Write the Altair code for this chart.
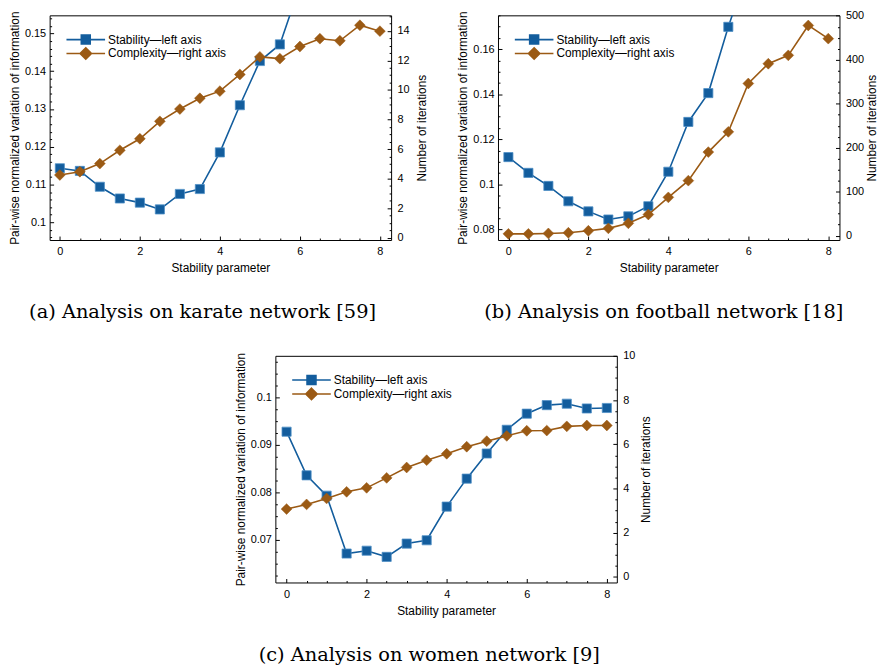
import altair as alt
import pandas as pd
import numpy as np

# ---------------- data ----------------
X = [0, 0.5, 1, 1.5, 2, 2.5, 3, 3.5, 4, 4.5, 5, 5.5, 6, 6.5, 7, 7.5, 8]

KARATE_STABILITY = [0.1143, 0.1136, 0.1094, 0.1063, 0.1052, 0.1034, 0.1075, 0.1088,
                    0.1185, 0.1310, 0.1427, 0.1471, 0.1626]
KARATE_COMPLEXITY = [4.25, 4.47, 5.02, 5.92, 6.70, 7.88, 8.71, 9.44, 9.92, 11.05,
                     12.24, 12.12, 12.94, 13.47, 13.33, 14.38, 13.98]

FOOTBALL_STABILITY = [0.1121, 0.1051, 0.0993, 0.0925, 0.0880, 0.0844, 0.0858, 0.0903,
                      0.1056, 0.1277, 0.1405, 0.1699, 0.1960]
FOOTBALL_COMPLEXITY = [4, 4, 5, 6.5, 11, 16.5, 28, 48, 87, 125, 190, 236, 346, 391,
                       410, 478, 448]

WOMEN_STABILITY = [0.0928, 0.0836, 0.0793, 0.0671, 0.0677, 0.0664, 0.0692, 0.0699,
                   0.0770, 0.0829, 0.0882, 0.0932, 0.0966, 0.0984, 0.0987, 0.0977, 0.0978]
WOMEN_COMPLEXITY = [3.07, 3.28, 3.55, 3.85, 4.03, 4.48, 4.95, 5.28, 5.57, 5.89, 6.14,
                    6.38, 6.61, 6.62, 6.81, 6.85, 6.85]

SERIES = ["Stability\u2014left axis", "Complexity\u2014right axis"]
CAPTIONS = ["(a) Analysis on karate network [59]",
            "(b) Analysis on football network [18]",
            "(c) Analysis on women network [9]"]
X_TITLE = "Stability parameter"
LEFT_TITLE = "Pair-wise normalized variation of information"
RIGHT_TITLE = "Number of iterations"

# ---------------- style ----------------
BLUE = "#135d9d"
BROWN = "#9b5a14"
COLORS = [BLUE, BROWN]
SANS = "Liberation Sans"
SERIF = "DejaVu Serif"
LEGEND_PATHS = ["M-3.9,0H3.9M-0.9,-0.9H0.9V0.9H-0.9Z",
                "M-3.9,0H3.9M0,-1.15L1.15,0L0,1.15L-1.15,0Z"]


def tick_values(lo, hi, step):
    start = np.ceil(lo / step - 1e-9) * step
    vals = np.arange(start, hi + 1e-9, step)
    return [float(round(v, 6)) for v in vals]


def major_test(major):
    return f"abs(datum.value/{major} - round(datum.value/{major})) < 1e-6"


def tick_dash(major, height=None):
    if height is None:
        return {"condition": {"test": major_test(major), "value": [4, 2000]},
                "value": [2, 2000]}
    return {"condition": {"test": major_test(major), "value": [0, height - 4, 4, 2000]},
            "value": [0, height - 2, 2, 2000]}


def panel(stab, comp, x_domain, left_domain, left_major, left_minor,
          right_domain, right_major, right_minor, width, height, caption, dx,
          right_title_pad):
    stab_df = pd.DataFrame({"x": X[:len(stab)], "y": stab})
    comp_df = pd.DataFrame({"x": X[:len(comp)], "y": comp})

    x_enc = alt.X("x:Q",
                  scale=alt.Scale(domain=x_domain, nice=False, zero=False),
                  axis=alt.Axis(title=X_TITLE, values=tick_values(0, 8, 0.5),
                                labelExpr=f"{major_test(2)} ? format(datum.value, '~g') : ''",
                                grid=True, gridDash=tick_dash(2, height),
                                labelPadding=6, titlePadding=6))

    y_left = alt.Y("y:Q",
                   scale=alt.Scale(domain=left_domain, nice=False, zero=False),
                   axis=alt.Axis(title=LEFT_TITLE, orient="left",
                                 values=tick_values(left_domain[0], left_domain[1], left_minor),
                                 labelExpr=f"{major_test(left_major)} ? format(datum.value, '.2~f') : ''",
                                 grid=True, gridDash=tick_dash(left_major),
                                 labelPadding=4, titlePadding=3))

    y_right = alt.Y("y:Q",
                    scale=alt.Scale(domain=right_domain, nice=False, zero=False),
                    axis=alt.Axis(title=RIGHT_TITLE, orient="right", titleAngle=270,
                                  titleBaseline="top",
                                  values=tick_values(max(0, right_domain[0]), right_domain[1], right_minor),
                                  labelExpr=f"{major_test(right_major)} ? format(datum.value, '~g') : ''",
                                  grid=True, gridDash=tick_dash(right_major),
                                  labelPadding=6, titlePadding=right_title_pad))

    stab_base = alt.Chart(stab_df).encode(x=x_enc, y=y_left)
    stab_layer = alt.layer(
        stab_base.mark_line(color=BLUE, strokeWidth=1.6, clip=True),
        stab_base.mark_point(shape="square", filled=True, size=85, fill=BLUE,
                             stroke="#4f8fc6", strokeWidth=0.8, opacity=1, clip=True),
    )
    comp_base = alt.Chart(comp_df).encode(x=x_enc, y=y_right)
    comp_layer = alt.layer(
        comp_base.mark_line(color=BROWN, strokeWidth=1.6, clip=True),
        comp_base.mark_point(shape="diamond", filled=True, size=120, fill=BROWN,
                             stroke=BROWN, strokeWidth=0.5, opacity=1, clip=True),
    )

    leg = alt.Legend(orient="none", legendX=30.5, legendY=18.5, title=None,
                     symbolSize=100, symbolStrokeWidth=1.6, labelFont=SANS,
                     labelFontSize=12, labelColor="black", labelOffset=16.5,
                     rowPadding=-7, padding=0)
    legend_df = pd.DataFrame({"series": SERIES})
    legend_layer = alt.Chart(legend_df).transform_filter("false").mark_point(
        filled=True, opacity=1, strokeWidth=1.6
    ).encode(
        fill=alt.Fill("series:N", scale=alt.Scale(domain=SERIES, range=COLORS), legend=leg),
        stroke=alt.Stroke("series:N", scale=alt.Scale(domain=SERIES, range=COLORS), legend=leg),
        shape=alt.Shape("series:N", scale=alt.Scale(domain=SERIES, range=LEGEND_PATHS), legend=leg),
    )

    return alt.layer(stab_layer, comp_layer, legend_layer).resolve_scale(
        y="independent"
    ).properties(
        width=width, height=height,
        title=alt.TitleParams(caption, orient="bottom", frame="group", anchor="middle",
                              font=SERIF, fontSize=19.6, fontWeight="normal",
                              color="black", offset=30, dx=dx),
    )


pa = panel(KARATE_STABILITY, KARATE_COMPLEXITY, [-0.255, 8.28],
           [0.0953, 0.1548], 0.01, 0.002, [-0.15, 15.05], 2, 0.5, 345, 227,
           CAPTIONS[0], -18, 8)
pb = panel(FOOTBALL_STABILITY, FOOTBALL_COMPLEXITY, [-0.26, 8.28],
           [0.0753, 0.175], 0.02, 0.005, [-10, 501], 100, 25, 345, 227,
           CAPTIONS[1], -5, 3)
pc = panel(WOMEN_STABILITY, WOMEN_COMPLEXITY, [-0.28, 8.25],
           [0.0610, 0.1088], 0.01, 0.0025, [-0.25, 10.0], 2, 0.5, 345, 229,
           CAPTIONS[2], -17, 6)

indep = dict(fill="independent", stroke="independent", shape="independent")
row1 = alt.hconcat(pa, pb, spacing=28).resolve_scale(**indep)
chart = alt.vconcat(row1, pc, spacing=26, center=True).resolve_scale(**indep).properties(
    padding={"top": -3, "left": 0, "right": 0, "bottom": 0}
).configure_view(
    stroke="black", strokeWidth=1
).configure_axis(
    domain=False, ticks=False, gridColor="black", gridOpacity=1, gridWidth=1,
    labelFont=SANS, labelFontSize=11, labelColor="black",
    titleFont=SANS, titleFontSize=12, titleFontWeight="normal", titleColor="black",
)

chart.save("out.html", embed_options={"renderer": "svg", "actions": False})
